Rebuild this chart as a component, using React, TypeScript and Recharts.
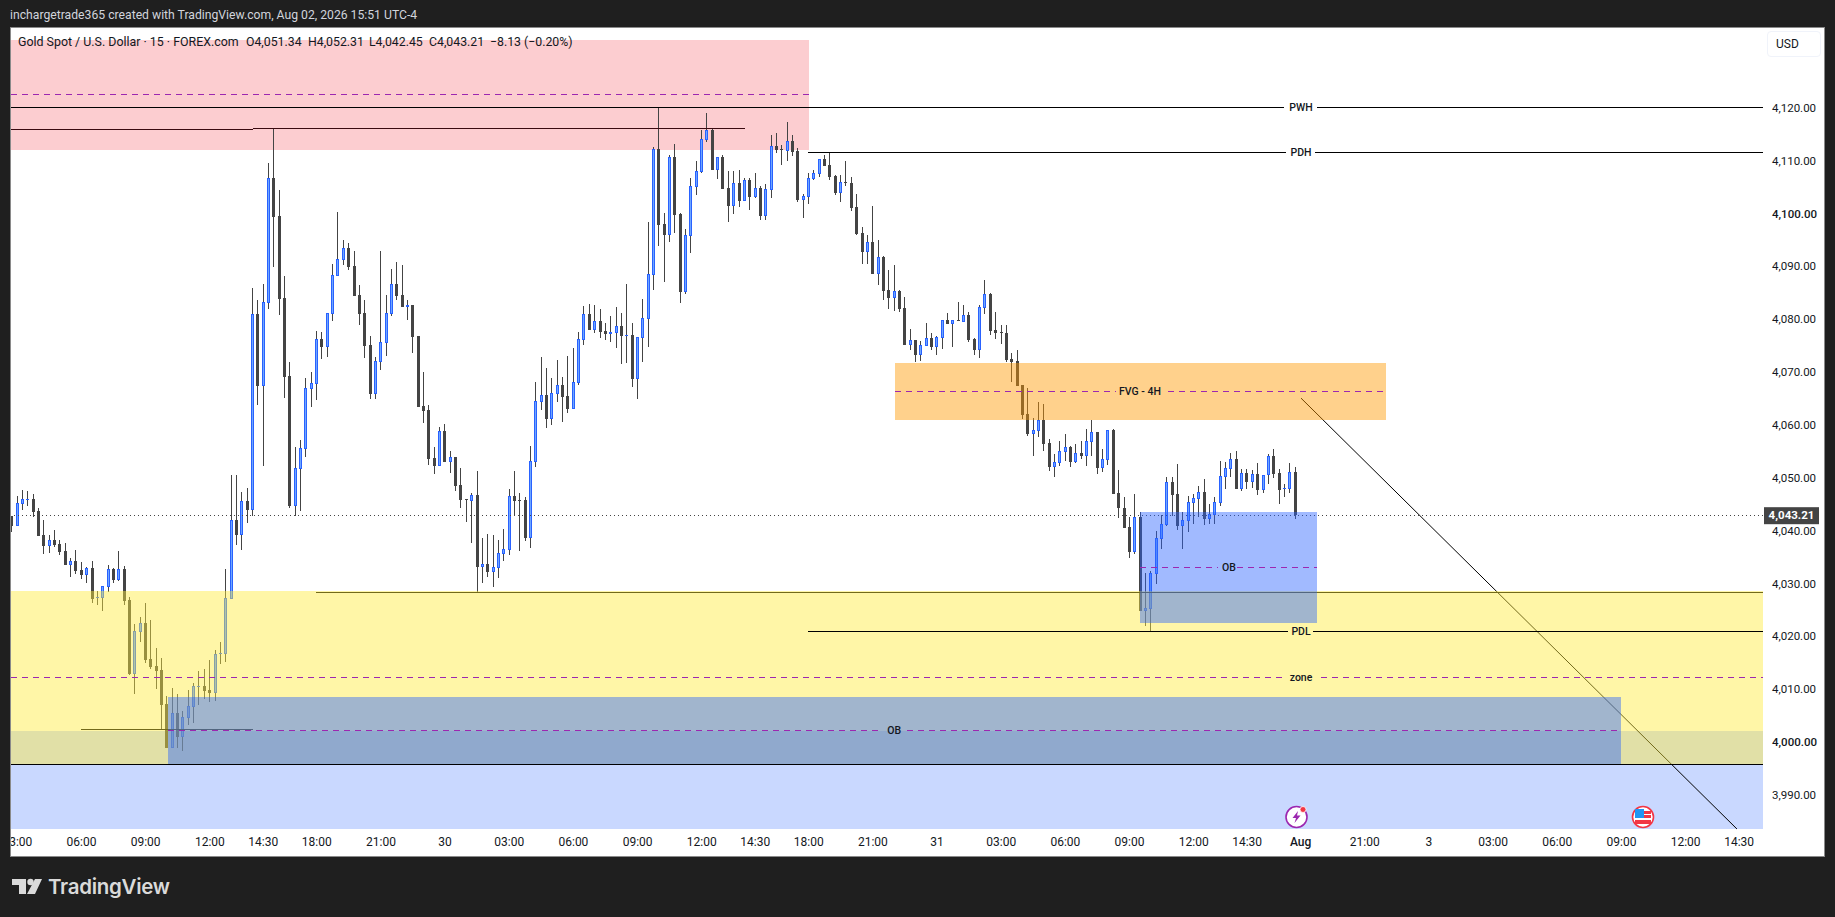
import React from "react";
import { ComposedChart, Bar, XAxis, YAxis, ReferenceArea, ReferenceLine, ReferenceDot } from "recharts";

// Candle values, in dollars above the 4,000 level, 15-minute bars left to right.
const PRICE_BASE = 4000;
const openOffsets = [
  43.0,41.1,45.3,46.1,46.3,44.0,39.4,37.3,38.5,37.7,
  36.4,33.8,34.5,32.8,31.9,33.2,27.6,27.5,29.6,33.0,
  30.9,33.0,27.1,13.1,21.1,22.8,16.0,14.7,13.9,7.5,
  -0.9,5.8,1.2,4.8,6.9,10.7,10.9,10.1,9.5,16.9,
  16.9,27.3,42.3,39.4,45.9,44.2,81.2,67.6,83.3,107.0,
  99.8,84.3,69.5,44.9,51.9,55.7,67.1,68.0,76.5,75.0,
  81.2,88.4,91.5,93.7,90.3,84.9,81.4,75.4,66.1,72.2,
  75.8,81.2,87.0,84.9,82.6,83.0,77.1,63.8,63.1,54.0,
  52.5,59.1,53.2,54.2,48.9,46.3,45.9,47.0,33.4,34.0,
  32.4,33.2,35.8,36.6,46.8,46.1,46.1,38.9,53.2,64.6,
  65.9,61.4,66.1,67.8,65.7,63.3,68.2,76.3,81.2,78.2,
  79.9,78.0,77.5,77.7,79.0,77.1,77.3,68.9,76.7,80.3,
  88.6,112.5,98.3,96.2,111.0,100.2,85.4,96.0,105.3,108.1,
  114.2,116.1,108.5,111.0,105.1,101.7,106.0,102.6,106.6,103.4,
  105.1,99.8,104.7,113.0,112.5,112.1,114.0,112.1,102.8,103.4,
  106.8,107.7,110.6,109.4,107.4,104.1,106.2,106.0,101.5,96.6,
  93.0,94.9,88.8,92.0,85.8,84.3,85.6,82.4,75.4,76.3,
  73.5,75.2,76.7,75.0,76.7,80.1,79.4,80.1,79.7,81.0,
  76.5,74.4,82.4,85.0,78.2,77.8,77.7,72.7,72.4,67.8,
  62.3,58.5,59.1,61.2,56.8,52.3,53.1,55.1,56.1,53.2,
  55.0,54.4,57.0,58.9,52.1,53.6,59.3,47.4,44.5,41.0,
  36.2,42.8,25.1,25.4,32.1,38.7,41.3,49.5,47.2,41.1,
  42.1,45.5,46.3,47.6,42.5,43.2,45.5,50.4,51.9,53.8,
  48.1,51.2,49.5,51.0,47.9,50.8,54.4,51.2,48.1,48.1,
  51.34,
];
const highOffsets = [
  43.0,46.8,48.0,47.8,47.2,44.5,42.3,39.4,40.4,38.5,
  37.9,35.1,36.6,34.3,33.4,34.5,28.8,29.8,33.8,33.2,
  36.4,33.6,27.7,22.6,23.9,26.6,23.4,18.1,16.2,9.0,
  10.5,9.4,6.1,10.1,11.4,13.7,14.1,15.8,17.7,19.2,
  33.0,50.8,50.8,47.6,48.3,86.2,83.9,86.9,109.8,116.4,
  104.7,88.4,72.2,56.1,57.4,69.2,70.3,78.0,77.8,81.4,
  90.7,100.5,95.3,94.7,93.2,86.7,83.9,77.1,73.1,93.2,
  84.8,89.8,91.1,90.5,83.9,83.0,77.1,70.3,64.0,56.1,
  59.9,60.4,55.3,54.2,52.1,46.3,47.4,51.5,38.9,39.6,
  39.4,38.5,40.6,48.1,51.5,47.4,46.6,56.3,68.4,73.1,
  71.0,69.2,72.5,69.3,73.3,74.8,77.8,82.8,83.1,83.0,
  82.2,79.5,80.9,82.6,81.4,87.0,79.5,76.9,84.1,98.7,
  112.8,120.4,100.4,111.3,113.4,100.4,97.3,107.0,110.2,116.1,
  119.3,116.4,111.0,111.3,108.3,108.3,108.5,107.0,107.0,107.9,
  105.5,105.8,115.1,115.5,113.2,117.6,115.1,112.7,104.0,107.9,
  108.5,110.6,111.3,111.9,107.6,107.6,110.2,107.2,104.0,97.7,
  96.2,101.7,95.3,92.2,89.6,90.5,85.8,84.5,78.4,76.3,
  76.1,79.5,77.7,77.1,80.1,81.4,80.1,83.5,83.0,81.6,
  76.7,83.0,87.7,85.2,81.6,79.2,79.2,73.9,74.4,67.8,
  67.2,61.6,64.6,64.2,57.6,54.8,57.2,58.5,56.3,56.7,
  57.2,59.5,61.2,58.9,55.7,59.3,59.5,51.7,46.6,42.8,
  47.2,43.8,32.2,32.6,40.2,43.2,50.4,50.4,52.9,43.8,
  46.8,47.2,48.7,50.0,45.3,46.6,53.4,53.2,55.0,55.3,
  51.9,51.9,51.7,53.1,50.8,54.8,55.7,51.9,49.1,53.1,
  52.31,
];
const lowOffsets = [
  40.0,41.1,44.3,44.9,42.8,39.2,35.8,36.0,37.2,35.7,
  33.8,31.5,32.1,31.1,30.4,26.6,26.2,25.1,28.6,30.4,
  30.7,26.2,13.0,9.4,19.2,15.2,14.1,10.3,2.7,-0.9,
  -0.9,-0.9,-1.4,3.5,3.9,7.3,8.4,7.8,8.0,15.0,
  15.4,27.3,37.5,36.6,41.7,43.0,64.0,52.5,82.2,90.1,
  81.1,65.4,44.5,43.0,44.0,54.2,63.7,65.0,72.7,73.1,
  79.9,88.4,90.5,89.6,84.7,79.2,72.9,65.2,65.2,70.7,
  73.3,80.9,83.9,82.6,80.1,73.9,63.7,60.6,52.7,51.0,
  52.5,53.2,51.2,47.8,44.5,41.9,37.9,28.6,30.4,31.5,
  29.6,31.3,34.5,35.7,43.2,36.4,38.3,37.0,52.3,63.1,
  59.7,60.4,64.6,60.8,62.5,63.3,67.8,75.4,78.2,77.7,
  76.7,76.3,76.0,74.8,71.8,72.0,67.4,65.2,72.2,75.0,
  85.8,94.1,87.3,94.9,96.6,83.3,85.0,92.8,103.8,107.9,
  113.8,108.5,106.8,104.9,98.7,100.2,101.5,102.6,100.9,103.2,
  99.0,99.0,103.2,111.7,109.4,110.2,111.2,102.4,99.4,102.1,
  106.6,107.2,109.3,106.6,103.9,102.4,105.5,100.7,96.2,90.7,
  90.7,88.8,86.7,83.9,82.2,81.8,81.6,75.4,74.4,72.2,
  72.4,75.2,74.4,73.5,74.6,79.4,75.0,79.9,79.7,76.0,
  73.5,72.9,81.2,77.3,76.5,75.6,72.2,68.4,67.6,61.4,
  58.2,54.4,58.0,55.3,51.5,50.4,52.5,53.4,52.3,53.1,
  53.8,52.5,54.4,51.0,51.4,52.7,47.2,42.6,40.8,35.1,
  35.8,25.1,22.2,21.3,30.2,36.8,41.1,43.0,40.4,36.8,
  40.0,41.5,42.8,41.3,41.5,41.5,44.9,48.0,50.4,48.1,
  47.8,48.1,48.3,47.0,47.4,49.1,50.2,45.3,46.6,47.4,
  42.45,
];
const closeOffsets = [
  41.1,45.5,46.3,46.3,43.8,39.2,37.3,38.5,37.5,36.2,
  33.8,34.5,32.6,31.9,33.2,27.3,27.7,29.8,33.0,30.9,
  33.0,27.0,13.1,21.3,22.8,15.8,14.5,13.7,7.3,-0.9,
  5.8,1.2,5.0,7.1,10.9,10.9,9.9,9.5,16.9,17.1,
  27.5,42.3,39.4,45.9,44.2,81.2,67.6,83.5,107.0,99.6,
  84.1,69.3,44.9,52.1,55.9,67.2,68.2,76.5,75.0,81.4,
  88.6,91.7,93.7,90.1,84.7,81.2,75.2,66.1,72.4,76.0,
  81.4,87.0,84.7,82.6,83.0,76.9,63.7,62.9,53.8,52.5,
  59.1,53.2,54.2,48.7,46.1,46.1,47.0,33.4,34.0,32.4,
  33.4,36.0,36.8,46.8,45.9,46.0,38.9,53.4,64.8,65.9,
  61.4,66.3,67.8,65.5,63.3,68.4,76.5,81.2,78.2,79.9,
  77.8,77.5,77.8,79.0,77.1,77.3,68.9,76.9,80.5,88.8,
  112.5,98.1,96.2,111.0,100.0,85.4,96.2,105.5,108.3,114.4,
  116.1,108.5,111.0,104.9,101.7,106.0,102.6,106.6,103.4,105.1,
  99.8,104.9,113.0,112.3,112.4,114.0,111.9,102.8,103.6,107.0,
  107.9,110.6,109.3,107.2,104.1,106.2,106.1,101.3,96.4,93.0,
  94.9,88.8,92.0,85.6,84.3,85.6,82.2,75.4,76.3,73.5,
  75.4,76.7,75.0,76.9,80.1,79.4,80.1,80.0,81.0,76.3,
  74.4,82.6,85.0,78.0,77.7,77.7,72.5,72.2,67.6,62.1,
  58.5,59.3,61.2,56.7,52.3,53.3,55.3,56.1,53.2,55.0,
  54.4,57.2,58.9,52.1,53.8,59.3,47.2,44.5,40.8,36.2,
  42.8,25.1,25.6,32.2,38.9,41.5,49.5,47.0,41.1,42.3,
  45.7,46.4,47.6,42.5,43.4,45.7,50.6,52.1,53.8,48.1,
  51.2,49.5,51.0,47.9,50.8,54.4,51.0,47.9,48.3,51.4,
  43.21,
];

// Time axis: bar number of each label, and the label.
const timeTickBars = [1,13,25,37,47,57,69,81,93,105,117,129,139,149,161,173,185,197,209,221,231,241,253,265,277,289,301,313,323];
const timeTickLabels = ["03:00","06:00","09:00","12:00","14:30","18:00","21:00","30","03:00","06:00","09:00","12:00","14:30","18:00","21:00","31","03:00","06:00","09:00","12:00","14:30","Aug","21:00","3","03:00","06:00","09:00","12:00","14:30"];
const boldTimeLabels = ["Aug"];

const priceTicks = [3990,4000,4010,4020,4030,4040,4050,4060,4070,4080,4090,4100,4110,4120];
const boldPriceTicks = [4000,4100];
const LAST_PRICE = 4043.21;

const titleText = "Gold Spot / U.S. Dollar · 15 · FOREX.com";
const ohlcTexts = ["O4,051.34", "H4,052.31", "L4,042.45", "C4,043.21", "−8.13 (−0.20%)"];
const ohlcLefts = [246, 308, 369, 429, 490];

const BAR_MIN = -0.187, BAR_MAX = 327.47;
const PRICE_MIN = 3983.83, PRICE_MAX = 4135.4;

const DARK = "#1f1f1f", CANDLE = "#444444", UP = "#2962ff", UP_INNER = "#6ea6ff";
const FONT = "Roboto, 'Liberation Sans', sans-serif";

const rows = openOffsets.map((o, i) => ({
  bar: i,
  open: PRICE_BASE + o,
  high: PRICE_BASE + highOffsets[i],
  low: PRICE_BASE + lowOffsets[i],
  close: PRICE_BASE + closeOffsets[i],
  range: [PRICE_BASE + lowOffsets[i], PRICE_BASE + highOffsets[i]],
}));

function Candle(props: any) {
  const { x, y, width, height, payload } = props;
  if (!payload) return null;
  const { open, high, low, close } = payload;
  const center = Math.floor(x + width / 2);
  const unit = height / (high - low);
  const yOf = (p: number) => y + (high - p) * unit;
  const top = Math.round(yOf(Math.max(open, close)));
  const bottom = Math.round(yOf(Math.min(open, close)));
  const h = Math.max(1, bottom - top);
  const up = close > open;
  return (
    <g shapeRendering="crispEdges">
      <rect x={center} y={Math.round(y)} width={1} height={Math.max(1, Math.round(height))} fill={CANDLE} />
      <rect x={center - 1} y={top} width={3} height={h} fill={up ? UP : CANDLE} />
      {up && h > 2 ? <rect x={center} y={top + 1} width={1} height={h - 2} fill={UP_INNER} /> : null}
    </g>
  );
}

const tf = (v: number) => timeTickLabels[timeTickBars.indexOf(v)] ?? "";

function TimeTick(props: any) {
  const { x, y, payload } = props;
  const label = tf(payload.value);
  return (
    <text x={x} y={y} dy={11} textAnchor="middle" fontFamily={FONT} fontSize={12}
      fontWeight={boldTimeLabels.includes(label) ? 500 : 400} fill="#131722">{label}</text>
  );
}

function PriceTick(props: any) {
  const { x, y, payload } = props;
  const v = payload.value;
  const text = v.toLocaleString("en-US", { minimumFractionDigits: 2, maximumFractionDigits: 2 });
  if (v === LAST_PRICE) {
    return (
      <g>
        <rect x={x - 5} y={y - 8} width={55} height={17} fill="#444444" />
        <text x={x + 22.5} y={y + 4} textAnchor="middle" fontFamily={FONT} fontSize={11.5} fontWeight={700} fill="#ffffff">{text}</text>
      </g>
    );
  }
  return (
    <text x={x + 3} y={y + 2.5} fontFamily={FONT} fontSize={11.5}
      fontWeight={boldPriceTicks.includes(v) ? 500 : 400} fill="#131722">{text}</text>
  );
}

const hLine = (key: string, price: number, from: number, to: number, stroke: string, z: number, dash?: string) => (
  <ReferenceLine key={key} segment={[{ x: from, y: price }, { x: to, y: price }]} stroke={stroke} strokeWidth={1}
    strokeDasharray={dash} ifOverflow="visible" zIndex={z} shapeRendering="crispEdges" />
);
const zone = (key: string, x1: number, x2: number, y1: number, y2: number, fill: string, alpha: number, z: number) => (
  <ReferenceArea key={key} x1={x1} x2={x2} y1={y1} y2={y2} fill={fill} fillOpacity={alpha} stroke="none" ifOverflow="visible" zIndex={z} shapeRendering="crispEdges" />
);
const tag = (key: string, bar: number, price: number, text: string) => (
  <ReferenceDot key={key} x={bar} y={price} r={0} stroke="none" fill="none" ifOverflow="visible" zIndex={700}
    label={{ value: text, position: "center", fontSize: 10.5, fontFamily: FONT, fontWeight: 500, fill: "#131722" }} />
);
const DASH = "6 5";
const PURPLE = "#9c27b0";

export default function App() {
  return (
    <div style={{ position: "absolute", left: 0, top: 0, width: 1835, height: 917, background: DARK, overflow: "hidden" }}>
      <div style={{ position: "absolute", left: 10, top: 6, color: "#d1d4dc", fontFamily: FONT, fontSize: 12.2, lineHeight: "18px", whiteSpace: "nowrap" }}>
        inchargetrade365 created with TradingView.com, Aug 02, 2026 15:51 UTC-4
      </div>
      <div style={{ position: "absolute", left: 10, top: 27, width: 1815, height: 830, boxSizing: "border-box", background: "#ffffff" }} />
      <div style={{ position: "absolute", left: 0, top: 0 }}>
        <ComposedChart width={1835} height={917} data={rows} margin={{ left: 11, top: 28, right: 11, bottom: 60 }}>
          <XAxis dataKey="bar" type="number" domain={[BAR_MIN, BAR_MAX]} allowDataOverflow ticks={timeTickBars} interval={0}
            height={28} axisLine={false} tickLine={false} tick={<TimeTick />} tickMargin={0} />
          <YAxis orientation="right" type="number" domain={[PRICE_MIN, PRICE_MAX]} allowDataOverflow width={61}
            ticks={[...priceTicks, LAST_PRICE]} interval={0} axisLine={false} tickLine={false} tick={<PriceTick />} tickMargin={0} />
          {zone("lightBlue", BAR_MIN, BAR_MAX, PRICE_MIN, 4002.36, "#2962ff", 0.25, 50)}
          {zone("red", BAR_MIN, 149.05, 4112.28, 4133.09, "#f23645", 0.25, 60)}
          <Bar dataKey="range" barSize={3} isAnimationActive={false} shape={<Candle />} zIndex={300} />
          <ReferenceLine y={LAST_PRICE} stroke="#444444" strokeWidth={1} strokeDasharray="1 3" ifOverflow="visible" zIndex={305} shapeRendering="crispEdges" />
          {hLine("swingHighA", 4116.2, BAR_MIN, 45.07, "#3a0a10", 310)}
          {hLine("swingHighB", 4116.39, 45.07, 137.09, "#3a0a10", 310)}
          {hLine("eqLow", 4028.56, 56.85, BAR_MAX, "#000000", 310)}
          {hLine("lowerSwing", 4002.68, 12.9, 45.07, "#000000", 310)}
          <ReferenceLine segment={[{ x: 241.07, y: 4065.36 }, { x: 322.6, y: 3983.83 }]} stroke="#000000" strokeWidth={1} ifOverflow="visible" zIndex={310} />
          {zone("orange", 165.14, 256.9, 4061.2, 4071.98, "#ff9800", 0.45, 320)}
          {zone("yellow", BAR_MIN, BAR_MAX, 3996.12, 4028.84, "#ffeb3b", 0.45, 320)}
          {zone("obUpper", 210.96, 244.06, 4022.79, 4043.79, "#2962ff", 0.44, 330)}
          {zone("obLower", 29.12, 300.9, 3996.12, 4008.79, "#2962ff", 0.44, 330)}
          {hLine("midRed", 4122.82, BAR_MIN, 149.05, PURPLE, 400, DASH)}
          {hLine("midOrangeA", 4066.63, 165.14, 206.5, PURPLE, 400, DASH)}
          {hLine("midOrangeB", 4066.63, 216.2, 256.9, PURPLE, 400, DASH)}
          {hLine("midObUpperA", 4033.33, 210.96, 225.6, PURPLE, 400, DASH)}
          {hLine("midObUpperB", 4033.33, 229.1, 244.06, PURPLE, 400, DASH)}
          {hLine("midObLowerA", 4002.49, 29.12, 162.3, PURPLE, 400, DASH)}
          {hLine("midObLowerB", 4002.49, 167.4, 300.9, PURPLE, 400, DASH)}
          {hLine("zoneA", 4012.52, BAR_MIN, 237.6, PURPLE, 400, DASH)}
          {hLine("zoneB", 4012.52, 244.8, BAR_MAX, PURPLE, 400, DASH)}
          {hLine("pwhA", 4120.32, BAR_MIN, 237.9, "#000000", 410)}
          {hLine("pwhB", 4120.32, 244.06, BAR_MAX, "#000000", 410)}
          {hLine("pdhA", 4111.85, 148.87, 238.3, "#000000", 410)}
          {hLine("pdhB", 4111.85, 243.7, BAR_MAX, "#000000", 410)}
          {hLine("pdlA", 4021.22, 148.87, 238.6, "#000000", 410)}
          {hLine("pdlB", 4021.22, 243.3, BAR_MAX, "#000000", 410)}
          {hLine("base", 3996.0, BAR_MIN, BAR_MAX, "#000000", 410)}
          {tag("tPwh", 241.07, 4120.32, "PWH")}
          {tag("tPdh", 241.07, 4111.85, "PDH")}
          {tag("tPdl", 241.07, 4021.22, "PDL")}
          {tag("tZone", 241.07, 4012.52, "zone")}
          {tag("tFvg", 210.96, 4066.63, "FVG - 4H")}
          {tag("tObU", 227.6, 4033.33, "OB")}
          {tag("tObL", 165, 4002.49, "OB")}
        </ComposedChart>
      </div>
      <div style={{ position: "absolute", left: 0, top: 27, width: 10, height: 830, background: DARK }} />
      <div style={{ position: "absolute", left: 1825, top: 27, width: 10, height: 830, background: DARK }} />
      <div style={{ position: "absolute", left: 10, top: 27, width: 1815, height: 830, boxSizing: "border-box", border: "1px solid #8a8a8a" }} />
      <div style={{ position: "absolute", left: 18, top: 33, color: "#131722", fontFamily: FONT, fontSize: 12.4, lineHeight: "18px", whiteSpace: "pre" }}>{titleText}</div>
      {ohlcTexts.map((t, i) => (
        <div key={t} style={{ position: "absolute", left: ohlcLefts[i], top: 33, color: "#131722", fontFamily: FONT, fontSize: 12.3, lineHeight: "18px", whiteSpace: "pre" }}>{t}</div>
      ))}
      <div style={{ position: "absolute", left: 1767, top: 31, width: 54, height: 26, boxSizing: "border-box", border: "1px solid #f0f3fa", borderRadius: 4, background: "#fff", color: "#131722", fontFamily: FONT, fontSize: 12, lineHeight: "24px", paddingLeft: 8 }}>USD</div>
      <svg style={{ position: "absolute", left: 1284, top: 804 }} width={26} height={26}>
        <circle cx={12.5} cy={13} r={10.5} fill="#fff" stroke="#9c27b0" strokeWidth={1.6} />
        <polygon points="14,7 8.5,14 12,14 10.5,19 16.5,11.5 13,11.5" fill="#9c27b0" />
        <circle cx={19} cy={5.5} r={3} fill="#f23645" stroke="#fff" strokeWidth={0.8} />
      </svg>
      <svg style={{ position: "absolute", left: 1630, top: 804 }} width={26} height={26}>
        <circle cx={13} cy={13} r={10.5} fill="#fff" stroke="#f23645" strokeWidth={1.6} />
        <rect x={5} y={5} width={9} height={9} fill="#2196f3" />
        <rect x={14} y={7} width={7} height={3} fill="#f23645" />
        <rect x={14} y={11} width={7} height={3} fill="#f23645" />
        <rect x={5} y={16} width={16} height={4} fill="#f23645" />
      </svg>
      <svg style={{ position: "absolute", left: 0, top: 870 }} width={50} height={30}>
        <polygon points="12,9 26,9 26,24 19,24 19,15 12,15" fill="#dadada" />
        <circle cx={30.5} cy={12} r={3.2} fill="#dadada" />
        <polygon points="35,9 42,9 35,24 27,24" fill="#dadada" />
      </svg>
      <div style={{ position: "absolute", left: 48, top: 873, color: "#dadada", fontFamily: "Inter, Roboto, sans-serif", fontWeight: 600, fontSize: 20.5, lineHeight: "28px", letterSpacing: "-0.3px" }}>TradingView</div>
    </div>
  );
}
